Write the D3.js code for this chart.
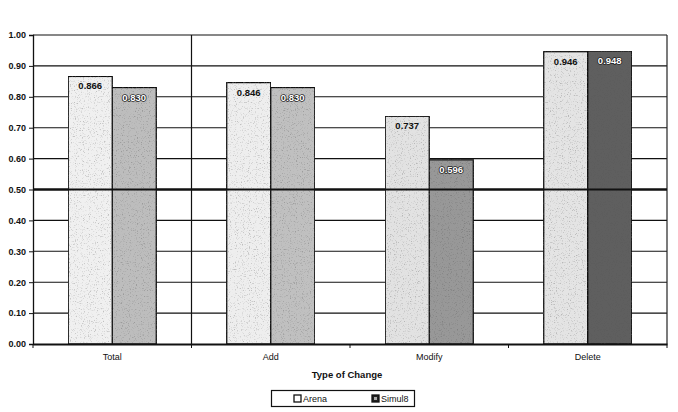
<!DOCTYPE html>
<html><head><meta charset="utf-8">
<script src="https://cdn.jsdelivr.net/npm/d3@7"></script>
<style>body{margin:0;background:#fff}svg{display:block}text{font-family:Arial,"Liberation Sans",sans-serif}</style>
</head><body>
<svg id="c" width="678" height="412"></svg>
<script>
const categories = ["Total","Add","Modify","Delete"];
const seriesNames = ["Arena","Simul8"];
const arenaValues = [0.866, 0.846, 0.737, 0.946];
const simul8Values = [0.830, 0.830, 0.596, 0.948];
const yTicks = [0,0.1,0.2,0.3,0.4,0.5,0.6,0.7,0.8,0.9,1.0];
const xTitle = "Type of Change";

const svg = d3.select("#c");
const m = {l:33, r:667, t:35, b:344};
const x = d3.scaleBand().domain(categories).range([m.l, m.r]).paddingInner(0).paddingOuter(0);
const xs = d3.scaleBand().domain(seriesNames).range([0, x.bandwidth()]).paddingInner(0).paddingOuter(0.8);
const y = d3.scaleLinear().domain([0,1]).range([m.b, m.t]);

const defs = svg.append("defs");
const f = defs.append("filter").attr("id","speck").attr("x",0).attr("y",0).attr("width",1).attr("height",1);
f.append("feTurbulence").attr("type","fractalNoise").attr("baseFrequency","0.85").attr("numOctaves",2).attr("seed",3).attr("result","n");
f.append("feColorMatrix").attr("in","n").attr("type","matrix")
 .attr("values","0 0 0 0 0.1  0 0 0 0 0.1  0 0 0 0 0.1  0 0 0 -4 1.75").attr("result","dots");
f.append("feComponentTransfer").attr("in","dots").attr("result","dots2")
 .append("feFuncA").attr("type","linear").attr("slope",0.45);
f.append("feComposite").attr("in","dots2").attr("in2","SourceGraphic").attr("operator","in").attr("result","d2");
f.append("feMerge").selectAll("feMergeNode").data(["SourceGraphic","d2"]).join("feMergeNode").attr("in",d=>d);

svg.append("g").selectAll("line").data(yTicks.filter(v=>v>0)).join("line")
  .attr("x1",m.l).attr("x2",m.r).attr("y1",d=>y(d)).attr("y2",d=>y(d))
  .attr("stroke","#111").attr("stroke-width",d=>Math.abs(d-0.5)<1e-9?2.2:1.1);

svg.append("line").attr("x1",m.r).attr("x2",m.r).attr("y1",m.t).attr("y2",m.b).attr("stroke","#222").attr("stroke-width",1.2);
svg.append("line").attr("x1",x("Add")).attr("x2",x("Add")).attr("y1",m.t).attr("y2",m.b).attr("stroke","#111").attr("stroke-width",1.2);

const arenaFill = ["#f0f0f0","#eeeeee","#e2e2e2","#e4e4e4"];
const simFill = ["#bdbdbd","#c0c0c0","#989898","#5e5e5e"];

const data = categories.map((c,i)=>[
  {cat:c, s:"Arena", v:arenaValues[i], fill:arenaFill[i], tc:"#111"},
  {cat:c, s:"Simul8", v:simul8Values[i], fill:simFill[i], tc:"#fff"}
]).flat();

const bars = svg.append("g");
bars.selectAll("rect").data(data).join("rect")
  .attr("x",d=>x(d.cat)+xs(d.s)).attr("width",xs.bandwidth())
  .attr("y",d=>y(d.v)).attr("height",d=>y(0)-y(d.v))
  .attr("fill",d=>d.fill).attr("filter","url(#speck)")
  .attr("stroke","#111").attr("stroke-width",1.3);

svg.append("line").attr("x1",m.l).attr("x2",m.r).attr("y1",y(0.5)).attr("y2",y(0.5)).attr("stroke","#111").attr("stroke-width",2.2);

bars.selectAll("text").data(data).join("text")
  .attr("x",d=>x(d.cat)+xs(d.s)+xs.bandwidth()/2).attr("y",d=>y(d.v)+13)
  .attr("text-anchor","middle").attr("font-size",9.5).attr("font-weight","bold")
  .attr("fill",d=>d.tc)
  .attr("stroke",d=>d.s==="Simul8"?"#222":"none").attr("stroke-width",1.6)
  .attr("paint-order","stroke").attr("stroke-linejoin","round")
  .text(d=>d3.format(".3f")(d.v));

const ya = svg.append("g").attr("transform",`translate(${m.l},0)`)
  .call(d3.axisLeft(y).tickValues(yTicks).tickFormat(d3.format(".2f")).tickSize(4));
ya.select(".domain").attr("stroke","#111").attr("stroke-width",1.3);
ya.selectAll(".tick line").attr("stroke","#111");
ya.selectAll("text").attr("font-size",9).attr("font-weight","bold").attr("fill","#111").attr("font-family","Arial, Liberation Sans, sans-serif");

const xa = svg.append("g").attr("transform",`translate(0,${m.b})`)
  .call(d3.axisBottom(x).tickSize(0).tickPadding(10));
xa.select(".domain").attr("stroke","#111").attr("stroke-width",1.8);
xa.selectAll("text").attr("font-size",9).attr("fill","#111").attr("font-family","Arial, Liberation Sans, sans-serif");
svg.append("g").selectAll("line").data(categories.map(c=>x(c)).concat([m.r])).join("line")
  .attr("x1",d=>d).attr("x2",d=>d).attr("y1",m.b).attr("y2",m.b+4).attr("stroke","#111");

svg.append("text").attr("x",(m.l+m.r)/2-3).attr("y",378).attr("text-anchor","middle")
  .attr("font-size",9.5).attr("font-weight","bold").attr("fill","#111").text(xTitle);

const lg = svg.append("g");
lg.append("rect").attr("x",271.5).attr("y",390.5).attr("width",143).attr("height",16).attr("fill","#fff").attr("stroke","#111").attr("stroke-width",1.2);
const li = lg.selectAll("g").data(seriesNames).join("g").attr("transform",(d,i)=>`translate(${294+i*78},398.5)`);
li.append("rect").attr("x",0).attr("y",-3.5).attr("width",7).attr("height",7)
  .attr("fill",(d,i)=>i?"#222":"#fff").attr("stroke","#111").attr("stroke-width",1.3);
li.filter((d,i)=>i===1).append("rect").attr("x",2).attr("y",-1.5).attr("width",3).attr("height",3).attr("fill","#aaa");
li.append("text").attr("x",9).attr("y",3.5).attr("font-size",9).attr("fill","#111").text(d=>d);
</script>
</body></html>
